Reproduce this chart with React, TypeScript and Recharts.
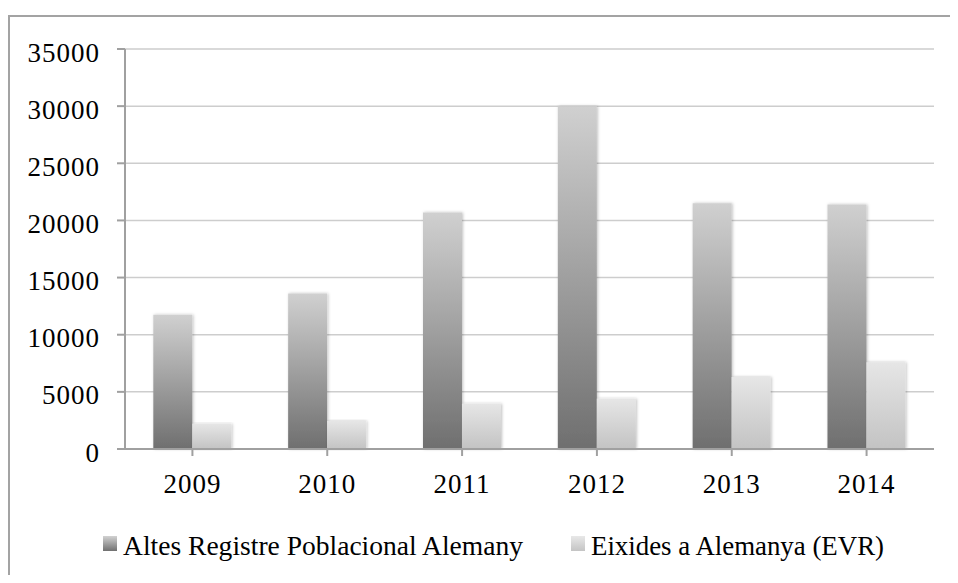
import { BarChart, Bar, XAxis, YAxis, CartesianGrid, Legend } from 'recharts';

const years = ['2009', '2010', '2011', '2012', '2013', '2014'];
const altes = [11750, 13600, 20700, 30000, 21500, 21400];
const eixides = [2200, 2450, 3950, 4400, 6300, 7600];
const yTicks = [0, 5000, 10000, 15000, 20000, 25000, 30000, 35000];

const seriesNames = ['Altes Registre Poblacional Alemany', 'Eixides a Alemanya (EVR)'];

const data = years.map((year, i) => ({
  year,
  altes: altes[i],
  eixides: eixides[i],
}));

const font = 'Liberation Serif, serif';
const axisColor = '#a0a0a0';

// legend layout: x offset of each item and the width its label takes
const legendItems = [
  { x: 0, textWidth: 400, from: '#d2d2d2', to: '#707070' },
  { x: 468, textWidth: 293, from: '#e8e8e8', to: '#c4c4c4' },
];

function ChartLegend() {
  return (
    <svg width={800} height={34} style={{ display: 'block' }}>
      <defs>
        {legendItems.map((item, i) => (
          <linearGradient key={i} id={`legendGrad${i}`} x1="0" y1="0" x2="0" y2="1">
            <stop offset="0%" stopColor={item.from} />
            <stop offset="100%" stopColor={item.to} />
          </linearGradient>
        ))}
      </defs>
      {seriesNames.map((name, i) => (
        <g key={name} transform={`translate(${legendItems[i].x},0)`}>
          <rect x={0} y={5} width={14} height={15} fill={`url(#legendGrad${i})`} />
          <text
            x={20}
            y={24}
            fontFamily={font}
            fontSize={27.5}
            fill="#000"
            textLength={legendItems[i].textWidth}
            lengthAdjust="spacingAndGlyphs"
          >
            {name}
          </text>
        </g>
      ))}
    </svg>
  );
}

export default function App() {
  return (
    <div style={{ paddingTop: 7 }}>
      <div
        style={{
          borderTop: '2px solid #a3a3a3',
          borderLeft: '2px solid #a3a3a3',
          width: 940,
          height: 558,
          background: '#fff',
        }}
      >
        <BarChart
          width={940}
          height={558}
          data={data}
          margin={{ top: 32, right: 16, left: 0, bottom: 86 }}
          barCategoryGap="21%"
          barGap={0}
        >
          <defs>
            <linearGradient id="gradAltes" x1="0" y1="0" x2="0" y2="1">
              <stop offset="0%" stopColor="#d0d0d0" />
              <stop offset="100%" stopColor="#6f6f6f" />
            </linearGradient>
            <linearGradient id="gradEixides" x1="0" y1="0" x2="0" y2="1">
              <stop offset="0%" stopColor="#e6e6e6" />
              <stop offset="100%" stopColor="#c3c3c3" />
            </linearGradient>
            <filter id="barShadow" x="-20%" y="-5%" width="140%" height="110%">
              <feDropShadow dx="1" dy="0" stdDeviation="1.5" floodColor="#000" floodOpacity="0.25" />
            </filter>
          </defs>
          <CartesianGrid vertical={false} stroke="#cdcdcd" strokeWidth={1.5} />
          <XAxis
            dataKey="year"
            height={40}
            tickSize={7}
            tickMargin={18}
            axisLine={{ stroke: axisColor, strokeWidth: 2 }}
            tickLine={{ stroke: axisColor, strokeWidth: 2 }}
            tick={{ fill: '#000', fontSize: 27, fontFamily: font, letterSpacing: 1 }}
          />
          <YAxis
            width={115}
            domain={[0, 35000]}
            ticks={yTicks}
            interval={0}
            tickSize={8}
            tickMargin={17}
            axisLine={{ stroke: axisColor, strokeWidth: 2 }}
            tickLine={{ stroke: axisColor, strokeWidth: 2 }}
            tick={{ fill: '#000', fontSize: 27, fontFamily: font, letterSpacing: 1, dy: 3 }}
          />
          <Legend
            layout="horizontal"
            verticalAlign="middle"
            align="center"
            wrapperStyle={{ top: 514, left: 93, width: 'auto' }}
            content={() => <ChartLegend />}
          />
          <Bar
            dataKey="altes"
            name={seriesNames[0]}
            fill="url(#gradAltes)"
            filter="url(#barShadow)"
            isAnimationActive={false}
          />
          <Bar
            dataKey="eixides"
            name={seriesNames[1]}
            fill="url(#gradEixides)"
            filter="url(#barShadow)"
            isAnimationActive={false}
          />
        </BarChart>
      </div>
    </div>
  );
}
